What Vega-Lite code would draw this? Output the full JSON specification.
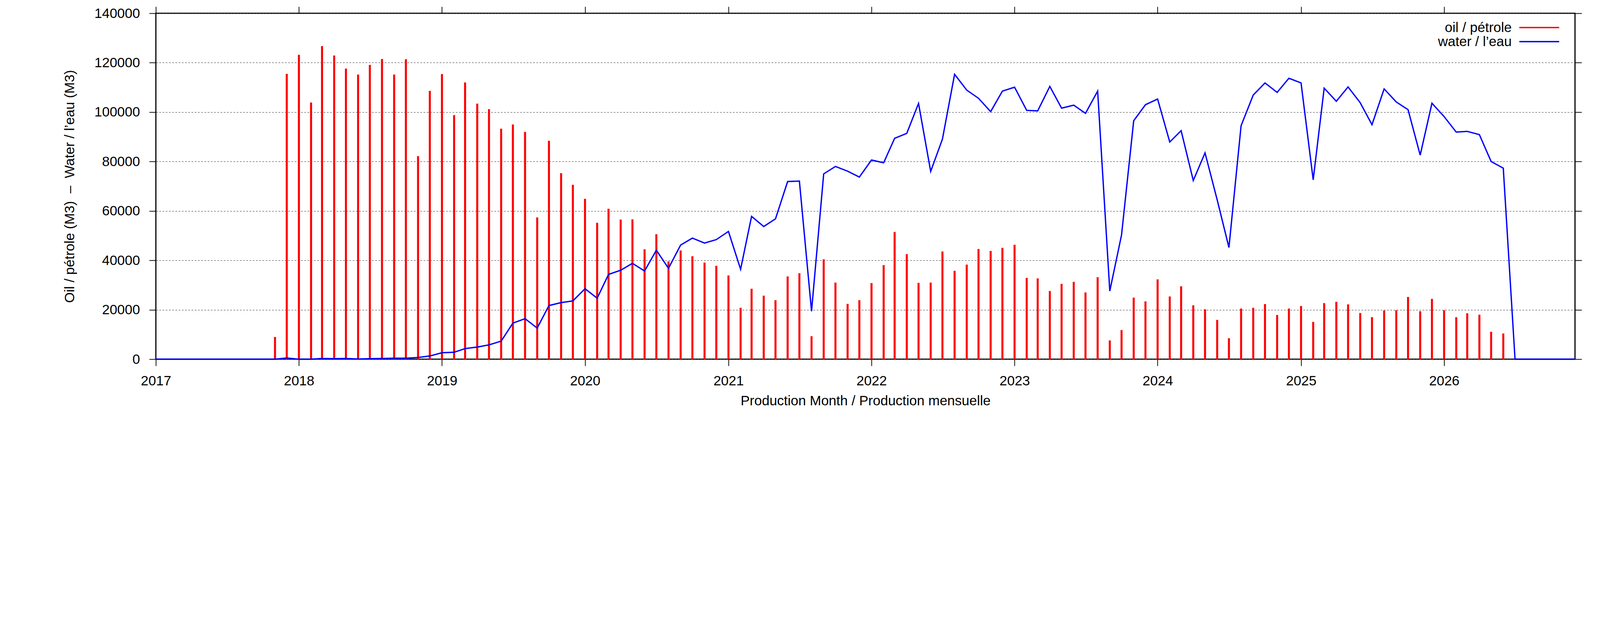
{
  "$schema": "https://vega.github.io/schema/vega-lite/v6.json",
  "description": "Monthly oil and water production (M3)",
  "width": 3633,
  "height": 885,
  "autosize": "none",
  "padding": {"left": 399, "top": 34, "right": 80, "bottom": 276},
  "background": "white",
  "config": {
    "font": "Liberation Sans",
    "view": {"stroke": "black", "strokeWidth": 3},
    "axis": {
      "domain": false,
      "tickColor": "black",
      "tickWidth": 1.9,
      "tickSize": 17,
      "labelFont": "Liberation Sans",
      "labelFontSize": 35,
      "labelColor": "black",
      "titleFont": "Liberation Sans",
      "titleFontSize": 35,
      "titleFontWeight": "normal",
      "titleColor": "black"
    },
    "legend": {
      "labelFont": "Liberation Sans",
      "labelFontSize": 35,
      "labelColor": "black",
      "labelLimit": 400
    }
  },
  "datasets": {
    "oil": [
      {"month": "2017-11-01", "oil": 9000},
      {"month": "2017-12-01", "oil": 115500},
      {"month": "2018-01-01", "oil": 123200},
      {"month": "2018-02-01", "oil": 103900},
      {"month": "2018-03-01", "oil": 126700},
      {"month": "2018-04-01", "oil": 122900},
      {"month": "2018-05-01", "oil": 117600},
      {"month": "2018-06-01", "oil": 115200},
      {"month": "2018-07-01", "oil": 119100},
      {"month": "2018-08-01", "oil": 121500},
      {"month": "2018-09-01", "oil": 115200},
      {"month": "2018-10-01", "oil": 121400},
      {"month": "2018-11-01", "oil": 82200},
      {"month": "2018-12-01", "oil": 108600},
      {"month": "2019-01-01", "oil": 115400},
      {"month": "2019-02-01", "oil": 98800},
      {"month": "2019-03-01", "oil": 112000},
      {"month": "2019-04-01", "oil": 103400},
      {"month": "2019-05-01", "oil": 101200},
      {"month": "2019-06-01", "oil": 93300},
      {"month": "2019-07-01", "oil": 95000},
      {"month": "2019-08-01", "oil": 92000},
      {"month": "2019-09-01", "oil": 57400},
      {"month": "2019-10-01", "oil": 88400},
      {"month": "2019-11-01", "oil": 75300},
      {"month": "2019-12-01", "oil": 70600},
      {"month": "2020-01-01", "oil": 64900},
      {"month": "2020-02-01", "oil": 55200},
      {"month": "2020-03-01", "oil": 60900},
      {"month": "2020-04-01", "oil": 56500},
      {"month": "2020-05-01", "oil": 56600},
      {"month": "2020-06-01", "oil": 44500},
      {"month": "2020-07-01", "oil": 50600},
      {"month": "2020-08-01", "oil": 39600},
      {"month": "2020-09-01", "oil": 44000},
      {"month": "2020-10-01", "oil": 41700},
      {"month": "2020-11-01", "oil": 39100},
      {"month": "2020-12-01", "oil": 37800},
      {"month": "2021-01-01", "oil": 33900},
      {"month": "2021-02-01", "oil": 20800},
      {"month": "2021-03-01", "oil": 28500},
      {"month": "2021-04-01", "oil": 25700},
      {"month": "2021-05-01", "oil": 23900},
      {"month": "2021-06-01", "oil": 33500},
      {"month": "2021-07-01", "oil": 34800},
      {"month": "2021-08-01", "oil": 9300},
      {"month": "2021-09-01", "oil": 40400},
      {"month": "2021-10-01", "oil": 31000},
      {"month": "2021-11-01", "oil": 22400},
      {"month": "2021-12-01", "oil": 23900},
      {"month": "2022-01-01", "oil": 30800},
      {"month": "2022-02-01", "oil": 38100},
      {"month": "2022-03-01", "oil": 51500},
      {"month": "2022-04-01", "oil": 42500},
      {"month": "2022-05-01", "oil": 30900},
      {"month": "2022-06-01", "oil": 31000},
      {"month": "2022-07-01", "oil": 43600},
      {"month": "2022-08-01", "oil": 35800},
      {"month": "2022-09-01", "oil": 38300},
      {"month": "2022-10-01", "oil": 44600},
      {"month": "2022-11-01", "oil": 43800},
      {"month": "2022-12-01", "oil": 45100},
      {"month": "2023-01-01", "oil": 46300},
      {"month": "2023-02-01", "oil": 32900},
      {"month": "2023-03-01", "oil": 32700},
      {"month": "2023-04-01", "oil": 27600},
      {"month": "2023-05-01", "oil": 30500},
      {"month": "2023-06-01", "oil": 31300},
      {"month": "2023-07-01", "oil": 27000},
      {"month": "2023-08-01", "oil": 33200},
      {"month": "2023-09-01", "oil": 7600},
      {"month": "2023-10-01", "oil": 11800},
      {"month": "2023-11-01", "oil": 24900},
      {"month": "2023-12-01", "oil": 23400},
      {"month": "2024-01-01", "oil": 32300},
      {"month": "2024-02-01", "oil": 25400},
      {"month": "2024-03-01", "oil": 29500},
      {"month": "2024-04-01", "oil": 21800},
      {"month": "2024-05-01", "oil": 20200},
      {"month": "2024-06-01", "oil": 15900},
      {"month": "2024-07-01", "oil": 8500},
      {"month": "2024-08-01", "oil": 20500},
      {"month": "2024-09-01", "oil": 20800},
      {"month": "2024-10-01", "oil": 22300},
      {"month": "2024-11-01", "oil": 17900},
      {"month": "2024-12-01", "oil": 20500},
      {"month": "2025-01-01", "oil": 21500},
      {"month": "2025-02-01", "oil": 15100},
      {"month": "2025-03-01", "oil": 22700},
      {"month": "2025-04-01", "oil": 23200},
      {"month": "2025-05-01", "oil": 22200},
      {"month": "2025-06-01", "oil": 18700},
      {"month": "2025-07-01", "oil": 17000},
      {"month": "2025-08-01", "oil": 19700},
      {"month": "2025-09-01", "oil": 19800},
      {"month": "2025-10-01", "oil": 25200},
      {"month": "2025-11-01", "oil": 19400},
      {"month": "2025-12-01", "oil": 24400},
      {"month": "2026-01-01", "oil": 19800},
      {"month": "2026-02-01", "oil": 17000},
      {"month": "2026-03-01", "oil": 18600},
      {"month": "2026-04-01", "oil": 18000},
      {"month": "2026-05-01", "oil": 11100},
      {"month": "2026-06-01", "oil": 10400}
    ],
    "water": [
      {"month": "2017-01-01", "water": 0},
      {"month": "2017-02-01", "water": 0},
      {"month": "2017-03-01", "water": 0},
      {"month": "2017-04-01", "water": 0},
      {"month": "2017-05-01", "water": 0},
      {"month": "2017-06-01", "water": 0},
      {"month": "2017-07-01", "water": 0},
      {"month": "2017-08-01", "water": 0},
      {"month": "2017-09-01", "water": 0},
      {"month": "2017-10-01", "water": 0},
      {"month": "2017-11-01", "water": 0},
      {"month": "2017-12-01", "water": 500},
      {"month": "2018-01-01", "water": 0},
      {"month": "2018-02-01", "water": 0},
      {"month": "2018-03-01", "water": 300},
      {"month": "2018-04-01", "water": 200},
      {"month": "2018-05-01", "water": 300},
      {"month": "2018-06-01", "water": 100},
      {"month": "2018-07-01", "water": 200},
      {"month": "2018-08-01", "water": 300},
      {"month": "2018-09-01", "water": 400},
      {"month": "2018-10-01", "water": 400},
      {"month": "2018-11-01", "water": 700},
      {"month": "2018-12-01", "water": 1300},
      {"month": "2019-01-01", "water": 2600},
      {"month": "2019-02-01", "water": 2800},
      {"month": "2019-03-01", "water": 4300},
      {"month": "2019-04-01", "water": 4900},
      {"month": "2019-05-01", "water": 5800},
      {"month": "2019-06-01", "water": 7300},
      {"month": "2019-07-01", "water": 14600},
      {"month": "2019-08-01", "water": 16400},
      {"month": "2019-09-01", "water": 12600},
      {"month": "2019-10-01", "water": 21700},
      {"month": "2019-11-01", "water": 22900},
      {"month": "2019-12-01", "water": 23600},
      {"month": "2020-01-01", "water": 28500},
      {"month": "2020-02-01", "water": 24700},
      {"month": "2020-03-01", "water": 34300},
      {"month": "2020-04-01", "water": 36000},
      {"month": "2020-05-01", "water": 38800},
      {"month": "2020-06-01", "water": 35700},
      {"month": "2020-07-01", "water": 44100},
      {"month": "2020-08-01", "water": 36800},
      {"month": "2020-09-01", "water": 46200},
      {"month": "2020-10-01", "water": 49000},
      {"month": "2020-11-01", "water": 47000},
      {"month": "2020-12-01", "water": 48400},
      {"month": "2021-01-01", "water": 51700},
      {"month": "2021-02-01", "water": 36400},
      {"month": "2021-03-01", "water": 57800},
      {"month": "2021-04-01", "water": 53700},
      {"month": "2021-05-01", "water": 56800},
      {"month": "2021-06-01", "water": 71900},
      {"month": "2021-07-01", "water": 72100},
      {"month": "2021-08-01", "water": 19400},
      {"month": "2021-09-01", "water": 75000},
      {"month": "2021-10-01", "water": 78000},
      {"month": "2021-11-01", "water": 76100},
      {"month": "2021-12-01", "water": 73700},
      {"month": "2022-01-01", "water": 80600},
      {"month": "2022-02-01", "water": 79500},
      {"month": "2022-03-01", "water": 89400},
      {"month": "2022-04-01", "water": 91400},
      {"month": "2022-05-01", "water": 103500},
      {"month": "2022-06-01", "water": 76000},
      {"month": "2022-07-01", "water": 89100},
      {"month": "2022-08-01", "water": 115300},
      {"month": "2022-09-01", "water": 108900},
      {"month": "2022-10-01", "water": 105600},
      {"month": "2022-11-01", "water": 100200},
      {"month": "2022-12-01", "water": 108500},
      {"month": "2023-01-01", "water": 110100},
      {"month": "2023-02-01", "water": 100700},
      {"month": "2023-03-01", "water": 100500},
      {"month": "2023-04-01", "water": 110400},
      {"month": "2023-05-01", "water": 101600},
      {"month": "2023-06-01", "water": 102800},
      {"month": "2023-07-01", "water": 99500},
      {"month": "2023-08-01", "water": 108500},
      {"month": "2023-09-01", "water": 27600},
      {"month": "2023-10-01", "water": 50300},
      {"month": "2023-11-01", "water": 96500},
      {"month": "2023-12-01", "water": 103000},
      {"month": "2024-01-01", "water": 105300},
      {"month": "2024-02-01", "water": 87900},
      {"month": "2024-03-01", "water": 92500},
      {"month": "2024-04-01", "water": 72300},
      {"month": "2024-05-01", "water": 83500},
      {"month": "2024-06-01", "water": 64500},
      {"month": "2024-07-01", "water": 45200},
      {"month": "2024-08-01", "water": 94500},
      {"month": "2024-09-01", "water": 106900},
      {"month": "2024-10-01", "water": 111800},
      {"month": "2024-11-01", "water": 108000},
      {"month": "2024-12-01", "water": 113700},
      {"month": "2025-01-01", "water": 111800},
      {"month": "2025-02-01", "water": 72600},
      {"month": "2025-03-01", "water": 109700},
      {"month": "2025-04-01", "water": 104400},
      {"month": "2025-05-01", "water": 110200},
      {"month": "2025-06-01", "water": 103800},
      {"month": "2025-07-01", "water": 94900},
      {"month": "2025-08-01", "water": 109400},
      {"month": "2025-09-01", "water": 104100},
      {"month": "2025-10-01", "water": 101000},
      {"month": "2025-11-01", "water": 82600},
      {"month": "2025-12-01", "water": 103600},
      {"month": "2026-01-01", "water": 98200},
      {"month": "2026-02-01", "water": 91900},
      {"month": "2026-03-01", "water": 92200},
      {"month": "2026-04-01", "water": 90900},
      {"month": "2026-05-01", "water": 80000},
      {"month": "2026-06-01", "water": 77300},
      {"month": "2026-07-01", "water": 0},
      {"month": "2026-08-01", "water": 0},
      {"month": "2026-09-01", "water": 0},
      {"month": "2026-10-01", "water": 0},
      {"month": "2026-11-01", "water": 0},
      {"month": "2026-12-01", "water": 0}
    ]
  },
  "layer": [
    {
      "description": "oil bars",
      "data": {"name": "oil"},
      "mark": {"type": "rule", "strokeWidth": 5.2, "strokeCap": "butt"},
      "encoding": {
        "x": {
          "field": "month",
          "type": "temporal",
          "scale": {
            "type": "utc",
            "domain": ["2017-01-01", "2026-12-01"]
          },
          "axis": {
            "orient": "bottom",
            "title": "Production Month / Production mensuelle",
            "format": "%Y",
            "tickCount": {"interval": "year", "step": 1},
            "labelFlush": false,
            "labelPadding": 21,
            "titlePadding": 16,
            "grid": false
          }
        },
        "y": {
          "field": "oil",
          "type": "quantitative",
          "scale": {"domain": [0, 140000], "nice": false},
          "axis": {
            "orient": "left",
            "title": "Oil / pétrole (M3) \u00a0–\u00a0 Water / l’eau (M3)",
            "values": [0, 20000, 40000, 60000, 80000, 100000, 120000, 140000],
            "format": "d",
            "labelFlush": false,
            "labelPadding": 24,
            "titlePadding": 45,
            "grid": true,
            "gridColor": "#333333",
            "gridWidth": 1,
            "gridDash": [4.5, 3.75]
          }
        },
        "y2": {"datum": 0},
        "color": {
          "datum": "oil / pétrole",
          "type": "nominal",
          "scale": {
            "domain": ["oil / pétrole", "water / l’eau"],
            "range": ["#ff0000", "#0000ff"]
          },
          "legend": {
            "title": null,
            "orient": "none",
            "legendX": 3524,
            "legendY": 19,
            "padding": 0,
            "direction": "vertical",
            "symbolType": "M-3.4,0H3.4",
            "symbolSize": 900,
            "symbolStrokeWidth": 3.4,
            "symbolFillColor": "transparent",
            "rowPadding": 0,
            "labelAlign": "right",
            "labelOffset": -88
          }
        }
      }
    },
    {
      "description": "water line",
      "data": {"name": "water"},
      "mark": {"type": "line", "strokeWidth": 3.4},
      "encoding": {
        "x": {
          "field": "month",
          "type": "temporal",
          "axis": {
            "orient": "top",
            "labels": false,
            "title": null,
            "tickCount": {"interval": "year", "step": 1},
            "grid": false
          }
        },
        "y": {
          "field": "water",
          "type": "quantitative",
          "axis": {
            "orient": "right",
            "labels": false,
            "title": null,
            "values": [0, 20000, 40000, 60000, 80000, 100000, 120000, 140000],
            "grid": false
          }
        },
        "color": {"datum": "water / l’eau", "type": "nominal"}
      }
    }
  ],
  "resolve": {"axis": {"x": "independent", "y": "independent"}}
}
